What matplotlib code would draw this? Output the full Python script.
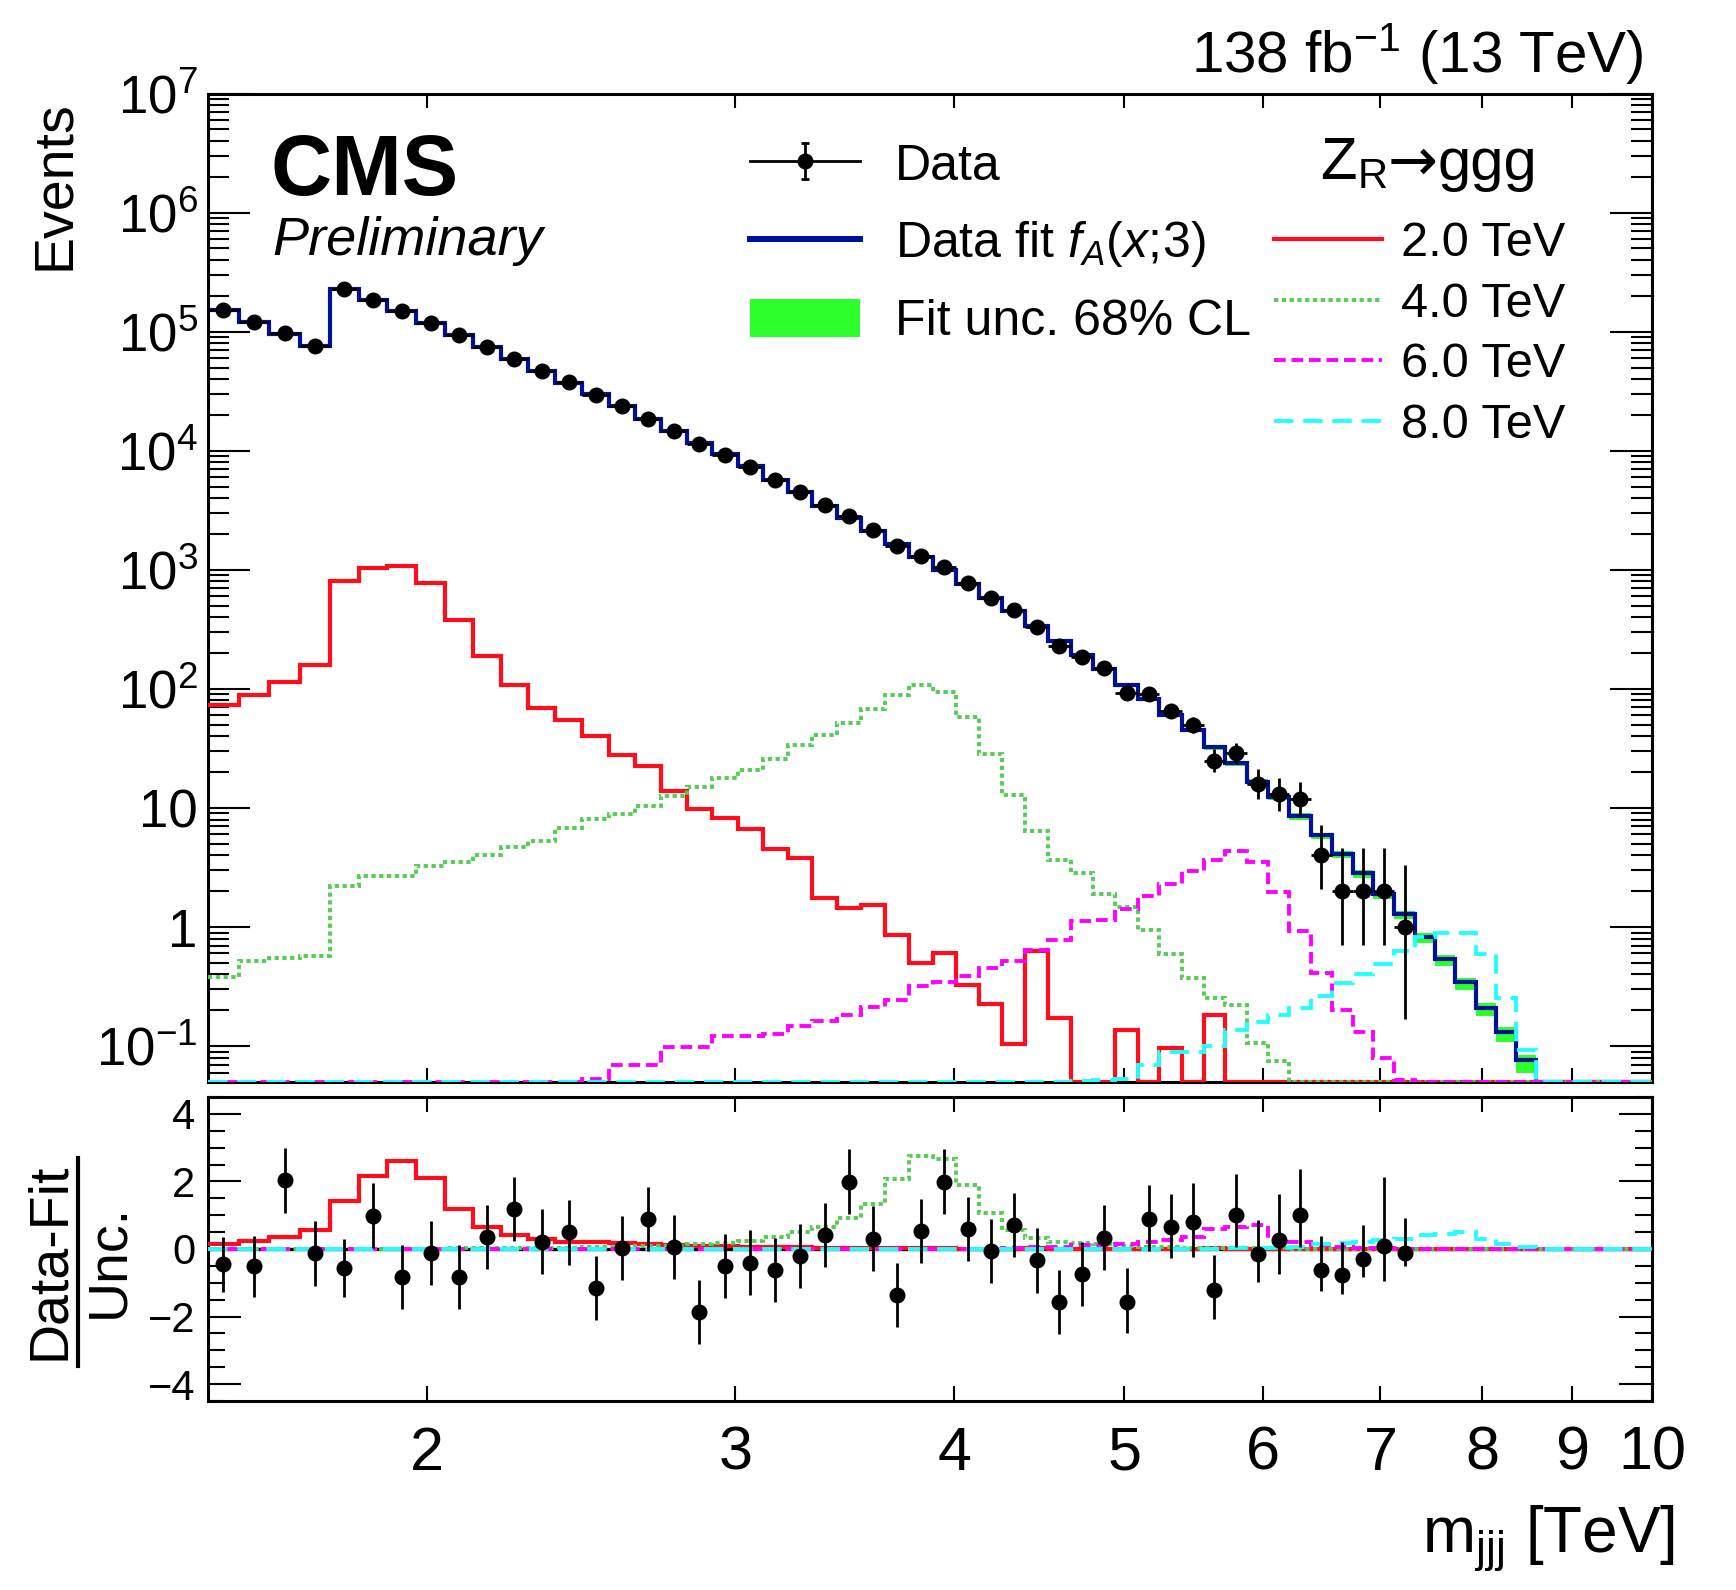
import numpy as np
import matplotlib
matplotlib.use('Agg')
import matplotlib.pyplot as plt
from matplotlib.ticker import FixedLocator, NullLocator, LogLocator, NullFormatter, MultipleLocator
from matplotlib.path import Path
from matplotlib.lines import Line2D
from matplotlib.patches import Patch
from matplotlib.legend_handler import HandlerTuple

plt.rcParams['font.family'] = ['Liberation Sans', 'DejaVu Sans']
plt.rcParams['mathtext.fontset'] = 'custom'
plt.rcParams['mathtext.rm'] = 'Liberation Sans'
plt.rcParams['mathtext.it'] = 'Liberation Sans:italic'
plt.rcParams['mathtext.bf'] = 'Liberation Sans:bold'
plt.rcParams['mathtext.sf'] = 'Liberation Sans'

# ---------------- data ----------------
# bin edges in TeV (55 bins)
bin_edges = [1.500, 1.563, 1.627, 1.693, 1.761, 1.830, 1.900, 1.973, 2.048, 2.126,
             2.204, 2.285, 2.368, 2.454, 2.541, 2.631, 2.722, 2.814, 2.910, 3.010,
             3.110, 3.214, 3.319, 3.427, 3.539, 3.652, 3.769, 3.887, 4.009, 4.134,
             4.261, 4.391, 4.524, 4.661, 4.801, 4.942, 5.088, 5.237, 5.391, 5.549,
             5.709, 5.873, 6.040, 6.212, 6.388, 6.567, 6.750, 6.936, 7.127, 7.323,
             7.521, 7.724, 7.933, 8.147, 8.365, 8.590]

# observed events (first 49 bins)
data_counts = [151000, 120000, 97000, 76000, 229000, 185000, 148000, 118000, 94000, 74000,
               59000, 47000, 37500, 29600, 23600, 18600, 14700, 11500, 9270, 7350,
               5660, 4490, 3490, 2830, 2140, 1591, 1305, 1059, 778, 579,
               464, 333, 230, 184, 151, 92, 90, 65, 50, 25,
               29, 16, 13, 12, 4, 2, 2, 2, 1]
data_err_lo = [389, 346, 311, 276, 479, 430, 385, 344, 307, 272,
               243, 217, 194, 172, 154, 136, 121, 107, 96, 86,
               75, 67, 59, 53, 46, 40, 36, 33, 28, 24,
               22, 18, 15, 14, 12, 9.6, 9.5, 8.0, 7.0, 5.0,
               5.4, 4.0, 3.6, 3.5, 1.9, 1.29, 1.29, 1.29, 0.83]
data_err_hi = [389, 346, 311, 276, 479, 430, 385, 344, 307, 272,
               243, 217, 194, 172, 154, 136, 121, 107, 96, 86,
               75, 67, 59, 53, 46, 40, 36, 33, 28, 24,
               22, 18, 15, 14, 12, 10.6, 10.5, 9.0, 8.0, 6.0,
               6.4, 5.1, 4.7, 4.6, 3.2, 2.64, 2.64, 2.64, 2.30]

# background fit f_A(x;3) per bin
fit_counts = [151200, 120200, 96500, 76150, 228500, 185400, 148100, 118300, 94100, 73700,
              58800, 47000, 37400, 29900, 23600, 18550, 14700, 11700, 9320, 7380,
              5710, 4500, 3460, 2730, 2124, 1646, 1286, 995, 762, 580,
              449, 339, 254, 194, 147, 108, 81.6, 60.7, 45.1, 32.4,
              23.7, 16.6, 12.4, 8.55, 5.9, 4.09, 2.83, 1.89, 1.28, 0.83,
              0.54, 0.343, 0.211, 0.132, 0.076]
# 68% CL band around the fit (lower / upper edge)
fit_band_lo = [149700, 119000, 95500, 75400, 226200, 183500, 146600, 117100, 93200, 73000,
               58200, 46500, 37000, 29600, 23350, 18350, 14550, 11580, 9220, 7300,
               5650, 4450, 3420, 2700, 2100, 1625, 1270, 982, 752, 572,
               442, 333, 249, 190, 143, 104.5, 78.8, 58.4, 43.2, 30.9,
               22.5, 15.7, 11.7, 8.0, 5.5, 3.78, 2.60, 1.72, 1.16, 0.74,
               0.47, 0.295, 0.178, 0.108, 0.060]
fit_band_hi = [152700, 121400, 97500, 76900, 230800, 187300, 149600, 119500, 95000, 74400,
               59400, 47500, 37800, 30200, 23850, 18750, 14850, 11820, 9420, 7460,
               5770, 4550, 3500, 2760, 2148, 1667, 1302, 1008, 772, 588,
               456, 345, 259, 198, 151, 111, 84.0, 62.7, 46.8, 33.7,
               24.7, 17.4, 13.0, 9.0, 6.2, 4.32, 3.00, 2.01, 1.37, 0.89,
               0.58, 0.372, 0.230, 0.145, 0.085]

# signal templates Z_R -> ggg (events per bin)
sig_2tev = [73, 89, 114, 158, 807, 1030, 1069, 778, 379, 188,
            107, 69, 55, 40, 28, 22.4, 13.8, 9.9, 8.2, 6.6,
            4.5, 3.8, 1.75, 1.45, 1.53, 0.866, 0.497, 0.607, 0.326, 0.224,
            0.105, 0.63, 0.173, 0, 0, 0.136, 0, 0.096, 0, 0.183,
            0, 0, 0, 0, 0, 0, 0, 0, 0, 0,
            0, 0, 0, 0, 0]
sig_4tev = [0.384, 0.515, 0.547, 0.575, 2.23, 2.68, 2.68, 3.27, 3.52, 4.03,
            4.73, 5.28, 6.76, 8.07, 8.87, 10.4, 12.6, 14.9, 17.9, 20.7,
            25.9, 33.5, 41, 52, 67.8, 89.7, 108, 94.6, 57.6, 28.3,
            12.8, 6.36, 3.66, 2.82, 1.88, 1.48, 0.953, 0.598, 0.375, 0.255,
            0.22, 0.107, 0.075, 0, 0, 0, 0, 0, 0, 0,
            0, 0, 0, 0, 0]
sig_6tev = [0, 0, 0, 0, 0, 0, 0, 0, 0, 0,
            0, 0, 0, 0.053, 0.070, 0.070, 0.099, 0.099, 0.122, 0.122,
            0.126, 0.147, 0.164, 0.183, 0.213, 0.246, 0.319, 0.343, 0.389, 0.455,
            0.515, 0.644, 0.774, 1.12, 1.14, 1.43, 1.81, 2.29, 2.93, 3.66,
            4.33, 3.52, 1.98, 0.93, 0.415, 0.20, 0.131, 0.079, 0.052, 0,
            0, 0, 0, 0, 0]
sig_8tev = [0, 0, 0, 0, 0, 0, 0, 0, 0, 0,
            0, 0, 0, 0, 0, 0, 0, 0, 0, 0,
            0, 0, 0, 0, 0, 0, 0, 0, 0, 0,
            0, 0, 0, 0.051, 0.052, 0.053, 0.070, 0.089, 0.090, 0.101,
            0.136, 0.158, 0.183, 0.211, 0.265, 0.338, 0.403, 0.489, 0.63, 0.82,
            0.90, 0.90, 0.593, 0.254, 0.092]

# lower panel: (data - fit) / unc.
pulls = [-0.45, -0.51, 2.03, -0.13, -0.56, 0.99, -0.84, -0.11, -0.84, 0.36,
         1.19, 0.22, 0.49, -1.15, 0.03, 0.88, 0.05, -1.87, -0.51, -0.40,
         -0.63, -0.20, 0.42, 1.98, 0.31, -1.37, 0.54, 1.98, 0.59, -0.05,
         0.72, -0.34, -1.56, -0.73, 0.34, -1.57, 0.90, 0.66, 0.79, -1.20,
         1.01, -0.16, 0.27, 1.02, -0.61, -0.78, -0.30, 0.09, -0.12]
pull_err_lo = [0.82, 0.91, 0.95, 0.96, 0.86, 0.95, 0.95, 0.95, 0.95, 0.95,
               0.95, 0.95, 0.95, 0.95, 0.95, 0.95, 0.95, 0.95, 0.95, 0.95,
               0.95, 0.95, 0.95, 0.95, 0.95, 0.95, 0.95, 0.95, 0.95, 0.95,
               0.95, 0.95, 0.95, 0.95, 0.95, 0.92, 0.95, 0.93, 1.02, 0.86,
               0.94, 0.81, 1.02, 0.95, 0.63, 0.54, 0.53, 1.03, 0.39]
pull_err_hi = [0.82, 0.90, 0.96, 0.96, 0.86, 0.95, 0.95, 0.95, 0.95, 0.95,
               0.95, 0.95, 0.95, 0.95, 0.95, 0.95, 0.95, 0.95, 0.95, 0.95,
               0.95, 0.95, 0.95, 0.99, 0.95, 0.95, 0.95, 0.99, 0.95, 0.95,
               0.95, 0.95, 0.95, 0.95, 0.95, 1.00, 1.00, 0.98, 1.16, 1.01,
               1.21, 1.02, 1.36, 1.36, 1.00, 1.00, 1.02, 2.04, 1.03]

# signal significance shown in the lower panel
sig_2tev_ratio = [0.15, 0.24, 0.37, 0.55, 1.43, 2.17, 2.60, 2.10, 1.18, 0.66,
                  0.42, 0.30, 0.22, 0.22, 0.17, 0.15, 0.12, 0.09, 0.08, 0.07,
                  0.06, 0.05, 0.03, 0.03, 0.03, 0.02, 0.015, 0.02, 0.01, 0.01,
                  0.005, 0.03, 0.01, 0, 0, 0.01, 0, 0.01, 0, 0.03,
                  0, 0, 0, 0, 0, 0, 0, 0, 0, 0,
                  0, 0, 0, 0, 0]
sig_4tev_ratio = [0.002, 0.002, 0.002, 0.002, 0.01, 0.01, 0.01, 0.01, 0.02, 0.02,
                  0.02, 0.02, 0.02, 0.05, 0.06, 0.08, 0.10, 0.15, 0.19, 0.25,
                  0.37, 0.49, 0.66, 0.91, 1.34, 2.07, 2.75, 2.67, 1.88, 1.08,
                  0.57, 0.34, 0.22, 0.19, 0.14, 0.09, 0.06, 0.05, 0.04, 0.03,
                  0.03, 0.02, 0.02, 0, 0, 0, 0, 0, 0, 0,
                  0, 0, 0, 0, 0]
sig_6tev_ratio = [0, 0, 0, 0, 0, 0, 0, 0, 0, 0,
                  0, 0, 0, 0.002, 0.002, 0.002, 0.003, 0.003, 0.004, 0.004,
                  0.005, 0.005, 0.006, 0.007, 0.008, 0.01, 0.01, 0.01, 0.01, 0.01,
                  0.03, 0.05, 0.07, 0.12, 0.13, 0.16, 0.20, 0.28, 0.37, 0.58,
                  0.66, 0.70, 0.33, 0.22, 0.12, 0.07, 0.04, 0.02, 0.01, 0,
                  0, 0, 0, 0, 0]
sig_8tev_ratio = [0, 0, 0, 0, 0, 0, 0, 0, 0, 0,
                  0, 0, 0, 0, 0, 0, 0, 0, 0, 0,
                  0, 0, 0, 0, 0, 0, 0, 0, 0, 0,
                  0, 0, 0, 0.002, 0.003, 0.004, 0.005, 0.007, 0.01, 0.01,
                  0.02, 0.03, 0.04, 0.06, 0.14, 0.17, 0.22, 0.27, 0.30, 0.42,
                  0.45, 0.50, 0.30, 0.15, 0.07]

signal_labels = ['2.0 TeV', '4.0 TeV', '6.0 TeV', '8.0 TeV']
x_tick_values = [2, 3, 4, 5, 6, 7, 8, 9, 10]
x_tick_labels = ['2', '3', '4', '5', '6', '7', '8', '9', '10']
y_tick_values = [1e-1, 1, 10, 1e2, 1e3, 1e4, 1e5, 1e6, 1e7]
y_tick_labels = ['$10^{-1}$', '1', '10', '$10^{2}$', '$10^{3}$', '$10^{4}$',
                 '$10^{5}$', '$10^{6}$', '$10^{7}$']

# ---------------- styling ----------------
W, H = 1736, 1590
XMIN, XMAX = 1.5, 10.0
YMIN, YMAX = 0.05, 1e7
BLUE = '#001199'
BAND = '#2cff2c'
RED = '#ff0d1a'
GREEN = '#55cc55'
MAGENTA = '#ff00ff'
CYAN = '#22ffff'
sig_styles = [dict(color=RED, lw=3.0, ls='-'),
              dict(color=GREEN, lw=2.8, ls=(0, (1.1, 0.9))),
              dict(color=MAGENTA, lw=2.8, ls=(0, (3.0, 1.5))),
              dict(color=CYAN, lw=2.8, ls=(0, (5.0, 2.5)))]

fig = plt.figure(figsize=(W / 100, H / 100), dpi=100)
fig.patch.set_facecolor('white')


def fx(px):
    return px / W


def fy(py):
    return 1 - py / H


ax1 = fig.add_axes([fx(207.5), fy(1082), fx(1652) - fx(207.5), fy(93.5) - fy(1082)])
ax2 = fig.add_axes([fx(207.5), fy(1401), fx(1652) - fx(207.5), fy(1097) - fy(1401)], sharex=ax1)

edges = np.array(bin_edges)
edges_ext = np.append(edges, XMAX)
centers = 0.5 * (edges[:-1] + edges[1:])


def ext(v):
    return np.append(np.asarray(v, float), 0.0)


# ---- upper panel ----
ax1.stairs(ext(fit_band_hi), edges_ext, baseline=ext(fit_band_lo), fill=True,
           color=BAND, lw=0, zorder=1)
ax1.stairs(np.clip(ext(fit_counts), YMIN, None), edges_ext, baseline=None,
           color=BLUE, lw=3.0, zorder=2)
for vals, st in zip([sig_2tev, sig_4tev, sig_6tev, sig_8tev], sig_styles):
    ax1.stairs(np.clip(ext(vals), YMIN, None), edges_ext, baseline=None, zorder=3, **st)

nd = len(data_counts)
c_d = centers[:nd]
xerr = [c_d - edges[:nd], edges[1:nd + 1] - c_d]
ax1.errorbar(c_d, data_counts, yerr=[data_err_lo, data_err_hi], xerr=xerr,
             fmt='o', color='k', ms=10.5, elinewidth=2.0, capsize=0, zorder=5)

ax1.set_xscale('log')
ax1.set_yscale('log')
ax1.set_xlim(XMIN, XMAX)
ax1.set_ylim(YMIN, YMAX)
ax1.yaxis.set_major_locator(FixedLocator(y_tick_values))
ax1.set_yticklabels(y_tick_labels)
ax1.yaxis.set_minor_locator(LogLocator(base=10, subs=np.arange(2, 10), numticks=30))
ax1.yaxis.set_minor_formatter(NullFormatter())
ax1.xaxis.set_major_locator(FixedLocator(x_tick_values))
ax1.xaxis.set_minor_locator(NullLocator())
ax1.tick_params(axis='x', which='major', labelbottom=False, direction='in',
                top=True, bottom=True, length=10, width=1.5)
ax1.tick_params(axis='y', which='major', direction='in', left=True, right=True,
                length=30, width=1.5, labelsize=38, pad=7)
ax1.tick_params(axis='y', which='minor', direction='in', left=True, right=True,
                length=15, width=1.5)

# ---- lower panel ----
ax2.axhline(0, color='k', lw=2.4, zorder=2)
for vals, st in zip([sig_2tev_ratio, sig_4tev_ratio, sig_6tev_ratio, sig_8tev_ratio], sig_styles):
    ax2.stairs(ext(vals), edges_ext, baseline=None, zorder=3, **st)
ax2.errorbar(c_d, pulls, yerr=[pull_err_lo, pull_err_hi], fmt='o', color='k',
             ms=10.5, elinewidth=2.0, capsize=0, zorder=5)
ax2.set_ylim(-4.5, 4.5)
ax2.yaxis.set_major_locator(FixedLocator([-4, -2, 0, 2, 4]))
ax2.yaxis.set_minor_locator(MultipleLocator(0.5))
ax2.xaxis.set_major_locator(FixedLocator(x_tick_values))
ax2.xaxis.set_minor_locator(NullLocator())
ax2.set_xticklabels(x_tick_labels)
ax2.set_xlim(XMIN, XMAX)
ax2.tick_params(axis='x', which='major', direction='in', top=True, bottom=True,
                length=11, width=1.5, labelsize=44, pad=18)
ax2.tick_params(axis='y', which='major', direction='in', left=True, right=True,
                length=24, width=1.5, labelsize=30, pad=9)
ax2.tick_params(axis='y', which='minor', direction='in', left=True, right=True,
                length=12, width=1.5)

for ax in (ax1, ax2):
    for s in ax.spines.values():
        s.set_linewidth(2.2)

# ---- texts ----
fig.text(fx(270), fy(195), 'CMS', fontsize=61, fontweight='bold', ha='left', va='baseline')
fig.text(fx(272), fy(255), 'Preliminary', fontsize=39, style='italic', ha='left', va='baseline')
fig.text(fx(1644), fy(72), r'138 fb$^{-1}$ (13 TeV)', fontsize=42, ha='right', va='baseline')
fig.text(fx(55), fy(100), 'Events', fontsize=40, rotation=90, ha='center', va='top')
fig.text(fx(50), fy(1261), 'Data-Fit', fontsize=40, rotation=90, ha='center', va='center')
fig.text(fx(109), fy(1261), 'Unc.', fontsize=40, rotation=90, ha='center', va='center')
fig.add_artist(Line2D([fx(77.5), fx(77.5)], [fy(1158), fy(1366)], transform=fig.transFigure,
                      color='k', lw=3))
fig.text(fx(1675), fy(1553), r'm$_{\mathrm{jjj}}$ [TeV]', fontsize=46, ha='right', va='baseline')

# ---- legends ----
ibeam = Path([(0, -1), (0, 1), (-0.22, 1), (0.22, 1), (-0.22, -1), (0.22, -1)],
             [Path.MOVETO, Path.LINETO, Path.MOVETO, Path.LINETO, Path.MOVETO, Path.LINETO])
h_data = (Line2D([], [], color='k', lw=2.0, marker=ibeam, markersize=26, markeredgewidth=2.0,
                 markerfacecolor='none'),
          Line2D([], [], color='k', marker='o', ms=10.5, ls='none'))
h_fit = Line2D([], [], color=BLUE, lw=4.3)
h_band = Patch(facecolor=BAND, edgecolor='none')
leg1 = fig.legend([h_data, h_fit, h_band],
                  ['Data', r'Data fit $\mathit{f_{A}(x;\!3)}$', 'Fit unc. 68% CL'],
                  handler_map={tuple: HandlerTuple(ndivide=1)},
                  loc='upper left', bbox_to_anchor=(fx(750), fy(143)), bbox_transform=fig.transFigure,
                  frameon=False, borderpad=0, borderaxespad=0, fontsize=36, numpoints=1,
                  handlelength=2.2, handletextpad=0.7, labelspacing=0.59, handleheight=0.8)

sig_handles = [Line2D([], [], **st) for st in sig_styles]
leg2 = fig.legend(sig_handles, signal_labels, loc='upper left',
                  bbox_to_anchor=(fx(1274), fy(221)), bbox_transform=fig.transFigure,
                  frameon=False, borderpad=0, borderaxespad=0, fontsize=35,
                  handlelength=2.22, handletextpad=0.4, labelspacing=0.32)

# legend title "Z_R -> ggg", assembled from pieces so the arrow sits tight
renderer = fig.canvas.get_renderer()
t_z = fig.text(fx(1320), fy(180), r'Z$_{\mathrm{R}}$', fontsize=43, ha='left', va='baseline')
bb = t_z.get_window_extent(renderer=renderer)
t_arrow = fig.text(bb.x1 / W, fy(180), '\u2192', fontsize=43, ha='left', va='baseline',
                   family=['DejaVu Sans'])
bb2 = t_arrow.get_window_extent(renderer=renderer)
fig.text(bb2.x1 / W, fy(180), 'ggg', fontsize=43, ha='left', va='baseline')

fig.savefig('out.png', dpi=100)
